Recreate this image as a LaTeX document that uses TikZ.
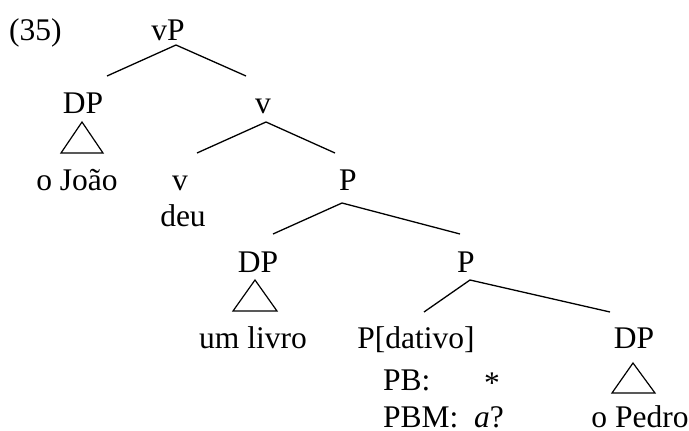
\documentclass[tikz,border=0pt]{standalone}
\usepackage{fontspec}
\setmainfont{Liberation Serif}
\begin{document}
\begin{tikzpicture}[x=1pt,y=-1pt,
  lab/.style={anchor=base,inner sep=0pt,font=\fontsize{31.5}{36}\selectfont},
  labl/.style={anchor=base west,inner sep=0pt,font=\fontsize{31.5}{36}\selectfont},
  nodepth/.style={text depth=0pt},
  edge/.style={line width=1.3pt},
  tri/.style={line width=1.2pt}]
\useasboundingbox (0,0) rectangle (689,431);
% labels
\node[labl] (ex) at (9,41) {(35)};
\node[lab] (vP) at (168,41) {vP};
\node[lab] (DP1) at (83,113) {DP};
\node[lab] (vbar) at (263,113) {v};
\node[lab] (joao) at (77,190) {o João};
\node[lab] (v) at (180,190) {v};
\node[lab] (deu) at (183,226) {deu};
\node[lab] (P1) at (348,190) {P};
\node[lab] (DP2) at (258,272) {DP};
\node[lab] (P2) at (466,272) {P};
\node[lab] (livro) at (253,348) {um livro};
\node[lab] (Pdat) at (416,348) {P[dativo]};
\node[lab] (DP3) at (634,348) {DP};
\node[labl] (PB) at (383,390) {PB:};
\node[lab] (star) at (492,393) {*};
\node[labl,nodepth] (PBM) at (383,427) {PBM:};
\node[labl,nodepth] (aq) at (474,427) {\textit{a}?};
\node[lab,nodepth] (pedro) at (640,427) {o Pedro};
% connector points
\coordinate (a1) at (176,45); \coordinate (a1l) at (107,76); \coordinate (a1r) at (246,76);
\coordinate (a2) at (266,122); \coordinate (a2l) at (197,153); \coordinate (a2r) at (335,153);
\coordinate (a3) at (342,203); \coordinate (a3l) at (273,234); \coordinate (a3r) at (460,234);
\coordinate (a4) at (470,280); \coordinate (a4l) at (424,312); \coordinate (a4r) at (610,312);
\draw[edge] (a1l) -- (a1) -- (a1r);
\draw[edge] (a2l) -- (a2) -- (a2r);
\draw[edge] (a3l) -- (a3) -- (a3r);
\draw[edge] (a4l) -- (a4) -- (a4r);
% triangles
\draw[tri] (82,122) -- (61,153) -- (103,153) -- cycle;
\draw[tri] (255,280) -- (233,311) -- (277,311) -- cycle;
\draw[tri] (633,363) -- (612,393) -- (655,393) -- cycle;
\end{tikzpicture}
\end{document}
